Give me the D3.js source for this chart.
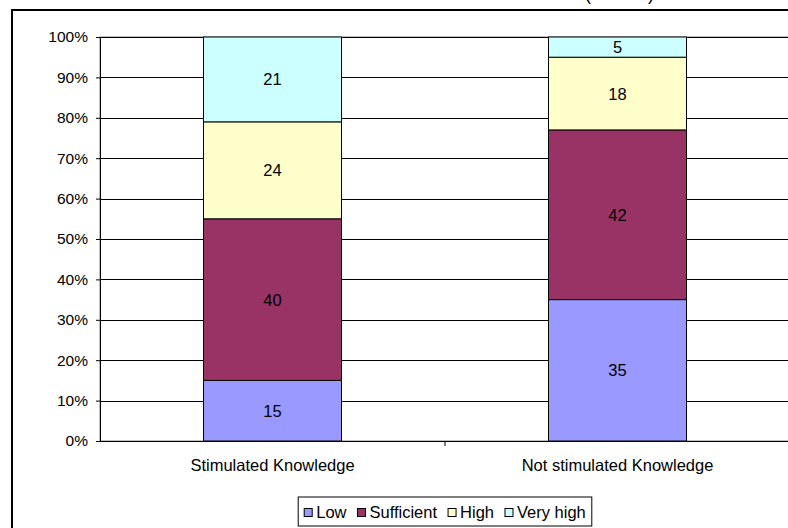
<!DOCTYPE html>
<html>
<head>
<meta charset="utf-8">
<script src="https://cdn.jsdelivr.net/npm/d3@7"></script>
<style>
  html, body { margin: 0; padding: 0; background: #fff; }
  svg { display: block; font-family: "Liberation Sans", Arial, sans-serif; }
</style>
</head>
<body>
<svg id="chart" width="788" height="528"></svg>
<script>
// ---- data ----
const categories = ["Stimulated Knowledge", "Not stimulated Knowledge"];
const seriesNames = ["Low", "Sufficient", "High", "Very high"];
const low = [15, 35];
const sufficient = [40, 42];
const high = [24, 18];
const veryHigh = [21, 5];
const yTicks = [0, 10, 20, 30, 40, 50, 60, 70, 80, 90, 100];
const colors = ["#9999FF", "#993366", "#FFFFCC", "#CCFFFF"];

const rows = categories.map((c, i) => ({
  category: c,
  "Low": low[i],
  "Sufficient": sufficient[i],
  "High": high[i],
  "Very high": veryHigh[i]
}));

const svg = d3.select("#chart");

// outer chart frame (cropped)
svg.append("rect")
  .attr("x", 12).attr("y", 10)
  .attr("width", 900).attr("height", 600)
  .attr("fill", "#fff").attr("stroke", "#000").attr("stroke-width", 2);

// cut-off title parentheses (only their lower tips show in the reference)
svg.append("text").attr("x", 585).attr("y", 0).attr("font-size", 18).text("(");
svg.append("text").attr("x", 648).attr("y", 0).attr("font-size", 18).text(")");

const plot = { left: 100, right: 790, top: 37, bottom: 441 };

const x = d3.scaleBand()
  .domain(categories)
  .range([plot.left, plot.right])
  .paddingInner(0.6)
  .paddingOuter(0.3);

const y = d3.scaleLinear().domain([0, 100]).range([plot.bottom, plot.top]);

// plot area border
svg.append("rect")
  .attr("x", plot.left).attr("y", plot.top)
  .attr("width", plot.right - plot.left).attr("height", plot.bottom - plot.top)
  .attr("fill", "none").attr("stroke", "#808080").attr("stroke-width", 1);

// gridlines
svg.append("g").selectAll("line")
  .data(yTicks.filter(t => t > 0))
  .join("line")
  .attr("x1", plot.left).attr("x2", plot.right)
  .attr("y1", d => Math.round(y(d)) + 0.5).attr("y2", d => Math.round(y(d)) + 0.5)
  .attr("stroke", "#000").attr("stroke-width", 1);

// stacked bars
const stack = d3.stack().keys(seriesNames);
const stacked = stack(rows);

const layers = svg.append("g").selectAll("g")
  .data(stacked)
  .join("g")
  .attr("fill", (d, i) => colors[i]);

layers.selectAll("rect")
  .data(d => d.map(p => ({ p, key: d.key })))
  .join("rect")
  .attr("x", d => x(d.p.data.category))
  .attr("width", x.bandwidth())
  .attr("y", d => y(d.p[1]))
  .attr("height", d => y(d.p[0]) - y(d.p[1]))
  .attr("stroke", "#000")
  .attr("stroke-width", 1);

// data labels
layers.selectAll("text")
  .data(d => d.map(p => ({ p, key: d.key })))
  .join("text")
  .attr("x", d => x(d.p.data.category) + x.bandwidth() / 2)
  .attr("y", d => (y(d.p[0]) + y(d.p[1])) / 2)
  .attr("dy", "0.36em")
  .attr("text-anchor", "middle")
  .attr("font-size", 16.5)
  .attr("fill", "#000")
  .text(d => d.p.data[d.key]);

// y axis
const yAxis = d3.axisLeft(y).tickValues(yTicks).tickSize(4).tickPadding(8)
  .tickFormat(d => d + "%");
const gy = svg.append("g")
  .attr("transform", `translate(${plot.left},0)`)
  .call(yAxis);
gy.select(".domain").attr("stroke", "#000");
gy.selectAll(".tick line").attr("stroke", "#000");
gy.selectAll("text").attr("font-size", 15.5).attr("font-family", "Liberation Sans, Arial, sans-serif").attr("fill", "#000");

// x axis
const gx = svg.append("g")
  .attr("transform", `translate(0,${plot.bottom})`)
  .call(d3.axisBottom(x).tickSize(0).tickPadding(18));
gx.select(".domain").attr("stroke", "#000");
gx.selectAll("text").attr("font-size", 16.5).attr("font-family", "Liberation Sans, Arial, sans-serif").attr("fill", "#000");
// category separator tick
const mid = (x(categories[0]) + x.bandwidth() + x(categories[1])) / 2;
svg.append("line")
  .attr("x1", mid).attr("x2", mid)
  .attr("y1", plot.bottom).attr("y2", plot.bottom + 5)
  .attr("stroke", "#000");

// legend
const legend = svg.append("g");
const pad = 6, marker = 8, gap = 4, itemGap = 11;
const items = legend.selectAll("g").data(seriesNames).join("g");
items.append("rect")
  .attr("width", marker).attr("height", marker)
  .attr("fill", (d, i) => colors[i])
  .attr("stroke", "#000").attr("stroke-width", 1);
items.append("text")
  .attr("x", marker + gap)
  .attr("y", marker / 2)
  .attr("dy", "0.36em")
  .attr("font-size", 16.5)
  .text(d => d);
let cursor = 0;
const widths = [];
items.each(function () {
  const w = marker + gap + d3.select(this).select("text").node().getComputedTextLength();
  widths.push(w);
});
const totalW = pad * 2 + d3.sum(widths) + itemGap * (widths.length - 1);
const legendH = 29;
const lx = mid - totalW / 2, ly = 497;
legend.insert("rect", ":first-child")
  .attr("x", lx).attr("y", ly)
  .attr("width", totalW).attr("height", legendH)
  .attr("fill", "#fff").attr("stroke", "#000").attr("stroke-width", 1);
items.attr("transform", (d, i) => {
  const tx = lx + pad + cursor;
  cursor += widths[i] + itemGap;
  return `translate(${tx},${ly + legendH / 2 - marker / 2 + 1})`;
});
</script>
</body>
</html>
